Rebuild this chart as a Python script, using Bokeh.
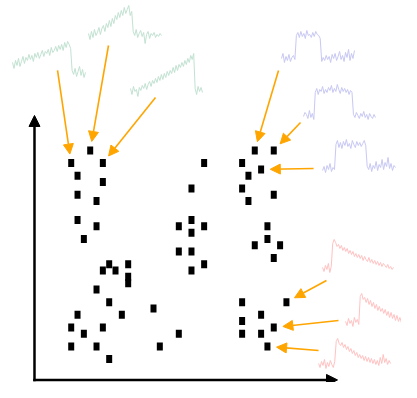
import numpy as np
from bokeh.plotting import figure
from bokeh.models import Arrow, NormalHead, ColumnDataSource, Range1d
from bokeh.embed import file_html
from bokeh.resources import INLINE

# ---------------- data ----------------
# scatter points (column index, value)
pt_x = [3, 0, 5, 1, 5, 1, 4, 1, 4, 2,
        6, 9, 5, 7, 9, 9, 4, 6, 1, 8, 13, 0, 5, 2, 17, 0, 4, 14, 6,
        17, 17, 21, 19, 19, 21, 19, 19, 21, 19,
        29, 32, 27, 30, 28, 27, 32, 28, 31, 31, 29, 33, 32,
        27, 34, 30, 27, 32, 27, 30, 31]
pt_y = [33, 31, 31, 29, 28, 26, 25, 22, 21, 19,
        15, 15, 14, 14, 13, 12, 11, 9, 7, 7, 8, 5, 5, 4, 4, 2, 2, 2, 0,
        21, 17, 31, 27, 22, 21, 20, 17, 15, 14,
        33, 33, 31, 30, 29, 27, 26, 25, 21, 19, 18, 18, 16,
        9, 9, 7, 6, 5, 4, 4, 2]

# small trace sketches (heights, pixel-like units)
g1 = [18, 12, 20, 15, 22, 14, 19, 24, 17, 23, 20, 26, 21, 25, 19, 27, 23, 28, 22, 26,
      30, 24, 29, 27, 31, 25, 33, 28, 30, 34, 29, 35, 31, 36, 30, 38, 33, 39, 36, 32,
      10, 6, 12, 4, 9, 14, 5, 11, 3, 8]
g2 = [12, 6, 14, 8, 16, 10, 13, 18, 11, 17, 20, 14, 22, 18, 25, 19, 27, 22, 30, 26,
      33, 28, 35, 30, 38, 32, 36, 40, 30, 34, 14, 10, 16, 8, 12, 15, 9, 13, 2, 11,
      14, 7, 12, 10, 13, 8, 11, 9, 12, 10]
g3 = [12, 6, 14, 9, 11, 4, 13, 10, 15, 12, 17, 11, 16, 19, 14, 20, 17, 22, 18, 24,
      20, 26, 21, 27, 23, 29, 25, 30, 27, 33, 28, 35, 30, 36, 33, 38, 34, 40, 36, 42,
      38, 45, 41, 47, 12, 6, 14, 9, 13, 8]
p1 = [7, 12, 3, 9, 5, 11, 4, 8, 10, 6, 30, 33, 28, 34, 29, 32, 27, 35, 30, 31,
      28, 33, 29, 34, 31, 30, 27, 4, 8, 5, 10, 6, 9, 3, 11, 7, 12, 5, 9, 14,
      6, 10, 4, 13, 8, 16, 5, 12, 7, 15]
p2 = [6, 10, 8, 4, 12, 5, 9, 3, 30, 34, 28, 33, 31, 36, 29, 33, 30, 35, 32, 37,
      30, 34, 31, 38, 33, 29, 35, 31, 34, 30, 33, 28, 32, 30, 8, 5, 10, 7, 4, 9,
      6, 11, 5, 8, 3, 9, 6, 4, 8, 5]
p3 = [5, 9, 3, 10, 6, 12, 4, 8, 6, 31, 35, 28, 33, 27, 34, 30, 36, 29, 32, 27,
      35, 31, 28, 34, 30, 33, 29, 32, 35, 30, 9, 6, 12, 4, 10, 7, 14, 5, 11, 8,
      16, 6, 13, 9, 18, 7, 12, 5, 10, 8]
r1 = [8, 4, 10, 6, 12, 3, 9, 32, 36, 33, 29, 31, 27, 30, 25, 28, 24, 27, 22, 25,
      21, 24, 19, 22, 18, 21, 17, 20, 15, 19, 16, 14, 18, 13, 16, 12, 15, 11, 14, 10,
      13, 9, 12, 10, 8, 11, 7, 9, 6, 8]
r2 = [9, 5, 12, 7, 10, 4, 13, 8, 11, 6, 34, 37, 31, 33, 28, 32, 26, 30, 24, 28,
      22, 26, 20, 24, 19, 22, 17, 21, 15, 19, 13, 18, 12, 16, 10, 15, 9, 13, 8, 12,
      7, 11, 20, 9, 13, 8, 12, 10, 14, 11]
r3 = [9, 5, 11, 7, 13, 4, 10, 6, 12, 8, 5, 11, 31, 34, 29, 27, 30, 25, 28, 23,
      26, 21, 24, 19, 22, 17, 20, 15, 18, 14, 17, 12, 16, 11, 15, 10, 14, 9, 13, 8,
      12, 7, 15, 9, 18, 10, 14, 8, 12, 9]

# which point each sketch's arrow targets (index into points)
arrow_targets = [1, 0, 2, 39, 40, 42, 53, 56, 59]

# ---------------- layout / style ----------------
W, H = 401, 382
PX = 6.33  # px per x unit
PY = 6.32  # px per y unit
x0 = -11.17
y1 = 56.73
p = figure(width=W, height=H, output_backend="svg", toolbar_location=None,
           x_range=Range1d(x0, x0 + W / PX), y_range=Range1d(y1 - H / PY, y1),
           x_axis_location=None, y_axis_location=None, min_border=0,
           background_fill_color="white", border_fill_color="white")
p.outline_line_color = None
p.xgrid.visible = False
p.ygrid.visible = False

# sketches: (values, x_start, x_end, baseline, color, arrow start x, arrow start y)
GREEN = "#c2e2d2"
PURPLE = "#c8c8f4"
RED = "#ffc2c2"
sketches = [
    (g1, -9.27, 2.26, 44.08, GREEN, -2.16, 45.66),
    (g2, 2.73, 14.27, 49.61, GREEN, 5.89, 49.61),
    (g3, 9.37, 20.74, 40.91, GREEN, 13.32, 41.39),
    (p1, 33.22, 44.75, 46.45, PURPLE, 32.75, 45.66),
    (p2, 36.70, 48.07, 37.43, PURPLE, 36.23, 37.43),
    (p3, 39.71, 51.23, 29.04, PURPLE, 38.29, 30.15),
    (r1, 39.71, 50.92, 13.22, RED, 40.33, 12.43),
    (r2, 43.34, 54.71, 4.52, RED, 42.23, 6.10),
    (r3, 39.08, 50.45, -2.13, RED, 39.08, 1.35),
]
for vals, xs, xe, base, col, _, _ in sketches:
    xx = np.linspace(xs, xe, len(vals))
    yy = base + np.array(vals) / PY
    p.line(xx, yy, line_color=col, line_width=1)

# orange arrows to target points
ORANGE = "#ffa500"
gap = 1.45
for (vals, xs, xe, base, col, ax, ay), ti in zip(sketches, arrow_targets):
    tx, ty = pt_x[ti], pt_y[ti]
    dx, dy = (ax - tx) * PX, (ay - ty) * PY
    d = np.hypot(dx, dy)
    ex = tx + dx / d * gap
    ey = ty + dy / d * gap
    p.add_layout(Arrow(x_start=ax, y_start=ay, x_end=ex, y_end=ey,
                       line_color=ORANGE, line_width=1.6,
                       end=NormalHead(size=10, fill_color=ORANGE, line_color=ORANGE,
                                      line_width=1)))

# scatter squares
src = ColumnDataSource(dict(x=pt_x, y=pt_y))
p.rect("x", "y", width=6, height=8, width_units="screen", height_units="screen",
       source=src, fill_color="black", line_color=None)

# axes as arrows
ox, oy = -5.80, -3.31
p.add_layout(Arrow(x_start=ox, y_start=-3.52, x_end=ox, y_end=38.54,
                   line_color="black", line_width=2.5,
                   end=NormalHead(size=11, fill_color="black", line_color="black")))
p.add_layout(Arrow(x_start=-6.0, y_start=oy, x_end=42.07, y_end=oy,
                   line_color="black", line_width=2.5,
                   end=NormalHead(size=11, fill_color="black", line_color="black")))

open("out.html", "w").write(file_html(p, INLINE))
